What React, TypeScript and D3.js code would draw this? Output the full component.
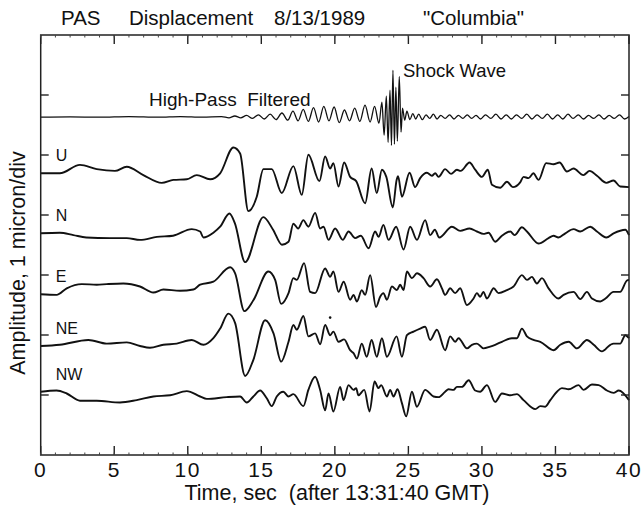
import React from "react";
import * as d3 from "d3";

// ---- data (time in s, amplitude in microns relative to trace baseline) ----
const xTicks = [0, 5, 10, 15, 20, 25, 30, 35, 40];
const yTicks = [1, 2, 3, 4, 5, 6];
const traceNames = ["HP", "U", "N", "E", "NE", "NW"];
const traceOffsets = [5.63, 4.695, 3.695, 2.678, 1.817, 1.055];

const hpTrace: [number, number][] = [
  [0,0],[2,0.005],[4,0],[6,0.01],[8,0],[9.5,0.01],[11,0],[12.3,0.01],[12.8,-0.01],[13.2,0.02],[13.6,-0.01],[14.0,0.03],[14.4,-0.02],[14.8,0.04],[15.2,-0.03],[15.6,0.05],[16.0,-0.04],[16.4,0.07],[16.8,-0.05],[17.15,0.1],[17.5,-0.06],[17.85,0.13],[18.2,-0.07],[18.55,0.16],[18.9,-0.08],[19.25,0.18],[19.6,-0.06],[19.95,0.17],[20.3,-0.09],[20.65,0.12],[21.0,-0.06],[21.35,0.15],[21.7,-0.07],[22.05,0.2],[22.4,-0.08],[22.7,0.18],[23.0,-0.1],[23.2,0.25],[23.35,-0.3],[23.5,0.35],[23.62,-0.42],[23.75,0.45],[23.85,-0.47],[23.95,0.78],[24.05,-0.45],[24.15,0.5],[24.25,-0.4],[24.38,0.68],[24.5,-0.25],[24.6,0.15],[24.75,-0.05],[24.9,0.1],[25.1,-0.04],[25.3,0.06],[25.5,-0.03],[25.7,0.05],[25.95,-0.04],[26.2,0.04],[26.45,-0.02],[26.7,0.05],[26.95,-0.03],[27.2,0.03],[27.5,-0.02],[27.8,0.04],[28.1,-0.03],[28.4,0.03],[28.7,-0.02],[29.0,0.04],[29.3,-0.02],[29.6,0.03],[29.9,-0.03],[30.25,0.04],[30.6,-0.02],[30.95,0.05],[31.3,-0.03],[31.65,0.04],[32.0,-0.03],[32.35,0.04],[32.7,-0.02],[33.05,0.05],[33.4,-0.03],[33.75,0.04],[34.1,-0.02],[34.45,0.05],[34.8,-0.03],[35.15,0.04],[35.5,-0.03],[35.85,0.05],[36.2,-0.02],[36.55,0.04],[36.9,-0.03],[37.25,0.03],[37.6,-0.02],[37.95,0.04],[38.3,-0.03],[38.65,0.03],[39.0,-0.02],[39.35,0.04],[39.7,-0.03],[40,0.01]
];

const uTrace: [number, number][] = [
  [0,0],[1.3,0],[2.67,0.14],[3.81,0.07],[5.05,0.04],[5.85,0.11],[6.98,-0.03],[8.23,-0.16],[9.02,-0.11],[9.93,-0.10],[10.61,-0.03],[11.52,-0.10],[12.2,0],[13.1,0.43],[13.56,0.33],[14.12,-0.63],[14.69,-0.39],[15.14,0.07],[15.71,0.07],[16.39,-0.33],[17.18,0.12],[17.75,-0.36],[18.2,0.31],[18.95,-0.13],[19.34,0.28],[19.68,0.08],[19.9,0.17],[20.25,-0.22],[20.63,0.18],[21.04,-0.06],[21.45,-0.13],[22.06,-0.5],[22.5,0.08],[22.85,-0.33],[23.2,0.06],[23.5,-0.06],[23.94,-0.57],[24.2,-0.11],[24.3,-0.05],[24.56,-0.39],[25.08,0.01],[25.46,-0.23],[25.8,-0.08],[26.26,0.01],[26.6,-0.04],[26.82,0],[27.05,-0.06],[27.5,0.07],[27.9,-0.01],[28.3,0.06],[28.55,0.04],[29.16,0.18],[29.54,0.06],[30.0,-0.06],[30.4,0.06],[30.68,-0.19],[31.24,-0.24],[31.7,-0.14],[32.1,-0.23],[32.6,-0.15],[32.83,-0.06],[33.17,-0.08],[33.5,0],[33.85,-0.11],[34.37,0.17],[34.87,0.15],[35.28,0.18],[35.78,0.03],[36.23,0.08],[36.9,-0.03],[37.32,0.04],[37.82,-0.04],[38.46,-0.16],[38.95,-0.12],[39.4,-0.22],[40,-0.23]
];

const nTrace: [number, number][] = [
  [0,0],[1.3,0.01],[2.22,-0.03],[3.1,-0.07],[4.7,-0.08],[5.85,-0.08],[6.75,-0.11],[7.9,-0.06],[9.0,-0.04],[10.27,0.07],[10.84,0.03],[11.06,-0.07],[11.74,0.01],[12.2,0.11],[12.83,0.33],[13.2,0.17],[13.9,-0.48],[15.14,0.27],[15.8,0.06],[16.4,-0.19],[16.85,-0.14],[17.18,0.16],[17.5,0.08],[17.86,0.22],[18.2,0.11],[18.66,0.34],[19.0,0.08],[19.23,0.11],[19.57,-0.11],[20.02,0.08],[20.54,-0.11],[20.93,0.03],[21.38,-0.08],[21.77,-0.04],[22.29,-0.25],[22.74,0.03],[22.97,-0.06],[23.3,0.14],[23.65,-0.11],[24.17,0.11],[24.67,-0.27],[25.12,0.11],[25.58,-0.11],[26.14,0.22],[26.48,-0.03],[26.8,0.06],[27.1,-0.07],[27.96,0.11],[28.52,0.04],[29.16,0.08],[29.66,0.03],[30.1,-0.01],[30.45,0.01],[30.9,-0.14],[31.36,-0.04],[31.93,0.03],[32.22,-0.03],[32.72,0.1],[33.06,0.03],[33.85,-0.17],[34.53,-0.08],[34.87,-0.04],[35.2,-0.07],[35.67,0],[36.23,0.07],[36.69,0.03],[37.37,0.11],[37.82,0.03],[38.46,-0.07],[38.95,0],[39.75,0.06],[40,-0.03]
];

const eTrace: [number, number][] = [
  [0,0],[1.08,-0.01],[1.77,0.1],[2.79,0.17],[3.81,0.16],[4.49,0.17],[5.62,0.18],[6.75,0.13],[7.66,0.03],[8.34,0.08],[9.47,0.06],[10.38,0.08],[10.84,0.16],[11.74,0.21],[12.88,0.45],[13.22,0.35],[13.85,-0.28],[14.46,-0.1],[15.48,0.38],[15.94,0.24],[16.35,-0.16],[16.85,0.02],[17.18,0.27],[17.41,0.24],[17.91,0.52],[18.32,0.04],[18.66,0.02],[19.34,0.43],[19.68,0.29],[19.9,0.38],[20.25,0.04],[20.6,0.21],[21.04,-0.09],[21.27,-0.01],[21.5,-0.12],[21.83,0.07],[22.06,-0.01],[22.4,0.32],[22.8,-0.21],[23.08,-0.04],[23.3,0.02],[23.54,-0.09],[23.88,0.13],[24.22,0.07],[24.44,0.16],[24.67,0.07],[24.9,0.38],[25.24,0.27],[25.58,0.35],[26.03,0.27],[26.48,0.13],[26.94,0.25],[27.28,0.1],[27.5,-0.01],[27.84,0.1],[28.18,0.02],[28.52,0.1],[28.98,-0.18],[29.43,-0.07],[29.66,0.02],[29.88,-0.04],[30.1,0.04],[30.34,-0.07],[30.8,0.1],[31.13,0.02],[31.7,0.07],[32.15,0.13],[32.72,0.32],[33.06,0.24],[33.4,0.29],[33.74,0.18],[34.08,0.27],[34.53,0.1],[35.2,-0.07],[35.55,-0.01],[36.23,0.04],[36.69,-0.08],[37.14,0.04],[37.48,-0.07],[38.05,-0.12],[38.4,-0.07],[38.95,0.04],[39.4,0.04],[39.86,0.23],[40,0.24]
];

const neTrace: [number, number][] = [
  [0,0],[1.3,0.02],[3.24,0.1],[4.49,0.04],[5.85,0.06],[6.75,0],[7.43,-0.03],[8.34,0.02],[9.25,0.04],[10.27,0.1],[11.06,0.02],[11.74,0.13],[12.2,0.29],[12.76,0.54],[13.22,0.38],[13.9,-0.5],[14.46,-0.23],[15.26,0.43],[15.83,0.21],[16.35,-0.26],[16.85,0.07],[17.18,0.35],[17.41,0.27],[17.86,0.5],[18.2,0.16],[18.66,0.21],[19.0,0.03],[19.34,0.35],[19.68,0.18],[19.9,0.24],[20.25,0.07],[20.63,0.11],[21.04,-0.07],[21.27,-0.12],[21.5,-0.21],[21.83,0.04],[22.17,-0.18],[22.5,0.1],[22.85,-0.18],[23.2,0.13],[23.54,-0.18],[24.2,0.16],[24.56,-0.18],[24.9,0.18],[25.35,0.24],[25.8,0.29],[26.14,0.32],[26.48,0.1],[26.94,0.27],[27.5,-0.07],[27.84,0.16],[28.18,0.07],[28.41,0.13],[28.98,-0.04],[29.32,0.02],[29.66,0.04],[30.1,-0.04],[30.56,-0.01],[30.9,0.02],[31.36,0.07],[32.04,0.13],[32.38,0.13],[32.72,0.29],[33.06,0.16],[33.5,0.1],[33.97,0.07],[34.87,-0.07],[35.33,0.02],[35.9,0.07],[36.46,-0.04],[37.14,0.1],[37.6,0.02],[38.16,-0.09],[38.73,0.02],[38.95,0.04],[39.4,0.04],[39.75,0.18],[40,0.13]
];

const nwTrace: [number, number][] = [
  [0,0],[1.08,0.02],[1.77,-0.03],[2.67,-0.15],[3.81,-0.15],[5.39,-0.18],[6.53,-0.14],[7.66,-0.08],[8.8,-0.06],[9.93,0.01],[10.84,-0.08],[11.29,-0.12],[12.65,-0.09],[13.56,-0.08],[14.01,-0.18],[14.46,-0.08],[14.92,0.02],[15.37,-0.11],[15.71,-0.24],[16.05,-0.08],[16.5,0],[16.85,-0.08],[17.18,-0.04],[17.86,-0.24],[18.2,0.03],[18.66,0.25],[19.0,0.03],[19.34,-0.31],[19.57,-0.03],[19.9,-0.33],[20.36,0.08],[20.59,-0.14],[20.93,0.11],[21.27,0.03],[21.45,0.06],[21.6,-0.06],[22.0,0.03],[22.36,-0.33],[22.7,0.17],[22.97,0.06],[23.15,0.11],[23.54,-0.08],[23.76,0.03],[23.99,-0.08],[24.26,0.04],[24.56,-0.19],[24.85,-0.41],[25.24,0],[25.58,-0.25],[26.14,0.03],[26.71,-0.08],[27.05,-0.09],[27.5,0.0],[27.73,0.04],[28.07,0.03],[28.3,0.08],[28.64,0.08],[29.1,0.19],[29.54,0.02],[29.88,0],[30.34,0.11],[30.9,-0.17],[31.36,-0.03],[31.93,-0.06],[32.38,-0.04],[32.83,-0.14],[33.63,-0.29],[33.97,-0.24],[34.3,-0.25],[34.65,-0.14],[35.1,0],[35.44,0.06],[35.9,0.04],[36.57,0.11],[36.91,0.03],[37.48,0.12],[37.94,0.11],[38.5,0.02],[38.95,-0.02],[39.3,0.02],[40,-0.14]
];

const traces = [hpTrace, uTrace, nTrace, eTrace, neTrace, nwTrace];
const traceLabels = ["", "U", "N", "E", "NE", "NW"];
const neDot: [number, number] = [19.68, 2.29];

const titleWords = ["PAS", "Displacement", "8/13/1989", "\"Columbia\""];
const titleX = [61, 129, 274, 423];

const W = 641, H = 511;
const left = 40.7, right = 629, top = 35, bottom = 455;
const FONT = "'Liberation Sans', Arial, Helvetica, sans-serif";

export default function App() {
  const x = d3.scaleLinear().domain([0, 40]).range([left, right]);
  const y = d3.scaleLinear().domain([0, 7]).range([bottom, top]);
  const minor = d3.range(0, 41, 1);

  return (
    <svg width={W} height={H} style={{ position: "absolute", left: 0, top: 0, background: "#fff" }}
      fontFamily={FONT}>
      <rect x={0} y={0} width={W} height={H} fill="#fff" />
      {/* title */}
      {titleWords.map((w, i) => (
        <text key={w} x={titleX[i]} y={25} fontSize={20.5} fill="#111">{w}</text>
      ))}
      {/* traces */}
      {traces.map((tr, i) => {
        const line = d3.line<[number, number]>()
          .x(d => x(d[0]))
          .y(d => y(traceOffsets[i] + d[1]))
          .curve(d3.curveMonotoneX);
        return (
          <path key={traceNames[i]} d={line(tr) || ""} fill="none" stroke="#111"
            strokeWidth={i === 0 ? 1.3 : 1.9} strokeLinejoin="round" />
        );
      })}
      <circle cx={x(neDot[0])} cy={y(neDot[1])} r={1.3} fill="#111" />
      {/* trace labels */}
      {traceLabels.map((l, i) => l ? (
        <text key={l} x={left + 15} y={y(traceOffsets[i]) - 12} fontSize={16} fill="#111">{l}</text>
      ) : null)}
      <text x={149} y={106} fontSize={19} fill="#111" style={{ whiteSpace: "pre" }}>High-Pass  Filtered</text>
      <text x={403} y={77} fontSize={18.5} fill="#111">Shock Wave</text>
      {/* frame */}
      <rect x={left} y={top} width={right - left} height={bottom - top} fill="none" stroke="#222" strokeWidth={1.5} />
      {xTicks.map(t => (
        <g key={"xt" + t}>
          <line x1={x(t)} x2={x(t)} y1={top} y2={top + 9} stroke="#222" strokeWidth={1.4} />
          <line x1={x(t)} x2={x(t)} y1={bottom} y2={bottom - 9} stroke="#222" strokeWidth={1.4} />
          <text x={x(t)} y={477} fontSize={21} textAnchor="middle" letterSpacing={1.5} fill="#111">{t}</text>
        </g>
      ))}
      {minor.map(t => (
        <g key={"mt" + t}>
          <line x1={x(t)} x2={x(t)} y1={bottom} y2={bottom - 2.5} stroke="#444" strokeWidth={1} />
          <line x1={x(t)} x2={x(t)} y1={top} y2={top + 2.5} stroke="#444" strokeWidth={1} />
        </g>
      ))}
      {yTicks.map(v => (
        <g key={"yt" + v}>
          <line x1={left} x2={left + 8} y1={y(v)} y2={y(v)} stroke="#222" strokeWidth={1.4} />
          <line x1={right} x2={right - 8} y1={y(v)} y2={y(v)} stroke="#222" strokeWidth={1.4} />
        </g>
      ))}
      <text x={337} y={500} fontSize={21.5} textAnchor="middle" fill="#111" style={{ whiteSpace: "pre" }}>Time, sec  (after 13:31:40 GMT)</text>
      <text transform={`translate(25,${(top + bottom) / 2 + 18}) rotate(-90)`} fontSize={21.5}
        textAnchor="middle" fill="#111">Amplitude, 1 micron/div</text>
    </svg>
  );
}
